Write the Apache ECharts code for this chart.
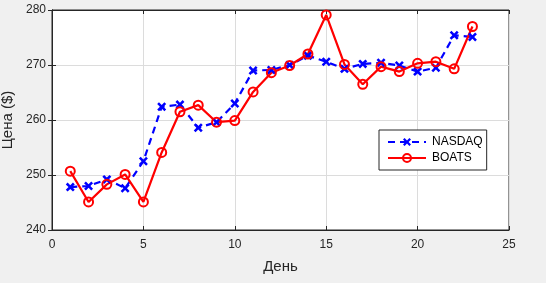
<!DOCTYPE html>
<html><head><meta charset="utf-8">
<script src="https://cdn.jsdelivr.net/npm/echarts@6/dist/echarts.min.js"></script>
<style>html,body{margin:0;padding:0;background:#f0f0f0}#c{width:546px;height:283px}</style>
</head><body><div id="c"></div>
<script>
const days = [1,2,3,4,5,6,7,8,9,10,11,12,13,14,15,16,17,18,19,20,21,22,23];
const nasdaq = [247.8,248.0,249.2,247.6,252.5,262.4,262.8,258.6,259.6,263.0,269.0,269.1,270.0,271.7,270.6,269.3,270.2,270.4,269.9,268.8,269.5,275.4,275.1];
const boats = [250.7,245.1,248.3,250.1,245.1,254.1,261.5,262.7,259.6,259.9,265.1,268.6,269.9,272.0,279.1,270.1,266.5,269.7,268.8,270.3,270.6,269.3,277.0];
const xTicks = [0,5,10,15,20,25];
const yTicks = [240,250,260,270,280];

const X = 'path://M0,2 L2,0 L5,3 L8,0 L10,2 L7,5 L10,8 L8,10 L5,7 L2,10 L0,8 L3,5 Z';
const font = 'Liberation Sans, Arial, sans-serif';
const ax = '#262626';
const chart = echarts.init(document.getElementById('c'));
const baseAxis = {
  axisLine:{show:true,lineStyle:{color:ax,width:1}},
  axisTick:{show:true,inside:true,length:4,lineStyle:{color:ax}},
  splitLine:{show:false}
};
chart.setOption({
  backgroundColor:'#f0f0f0',
  animation:false,
  grid:{left:52,right:37,top:10,bottom:53,containLabel:false,outerBoundsMode:'none',show:true,backgroundColor:'#fff',borderColor:ax,borderWidth:1},
  legend:{
    orient:'vertical',left:379,top:130,
    data:['NASDAQ','BOATS'],
    backgroundColor:'#fff',borderColor:ax,borderWidth:1,borderRadius:0,
    padding:[6,4,6,8],itemGap:4,itemWidth:38,itemHeight:10,
    textStyle:{fontFamily:font,fontSize:12,color:'#000',padding:[0,0,0,1]}
  },
  xAxis:[
    Object.assign({},baseAxis,{type:'value',min:0,max:25,interval:5,
      splitLine:{show:true,lineStyle:{color:'#dcdcdc',width:1}},
      axisLabel:{fontFamily:font,fontSize:12,color:ax,margin:9,formatter:v=>xTicks.includes(v)?String(v):''},
      name:'День',nameLocation:'middle',nameGap:29,nameTextStyle:{fontFamily:font,fontSize:15,color:ax}}),
    Object.assign({},baseAxis,{type:'value',min:0,max:25,interval:5,position:'top',axisLabel:{show:false}})
  ],
  yAxis:[
    Object.assign({},baseAxis,{type:'value',min:240,max:280,interval:10,
      splitLine:{show:true,lineStyle:{color:'#dcdcdc',width:1}},
      axisLabel:{fontFamily:font,fontSize:12,color:ax,margin:6,formatter:v=>yTicks.includes(v)?String(v):''},
      name:'Цена ($)',nameLocation:'middle',nameGap:26,nameRotate:90,nameTextStyle:{fontFamily:font,fontSize:15,color:ax}}),
    Object.assign({},baseAxis,{type:'value',min:240,max:280,interval:10,position:'right',axisLabel:{show:false}})
  ],
  series:[
    {name:'NASDAQ',type:'line',data:days.map((d,i)=>[d,nasdaq[i]]),
      symbol:X,symbolSize:9,showAllSymbol:true,
      lineStyle:{color:'#0000ff',width:2.2,type:[7,5]},
      itemStyle:{color:'#0000ff',borderWidth:0}},
    {name:'BOATS',type:'line',data:days.map((d,i)=>[d,boats[i]]),
      symbol:'circle',symbolSize:9,showAllSymbol:true,
      lineStyle:{color:'#ff0000',width:2.2},
      itemStyle:{color:'rgba(255,255,255,0)',borderColor:'#ff0000',borderWidth:2}}
  ]
});
</script></body></html>
